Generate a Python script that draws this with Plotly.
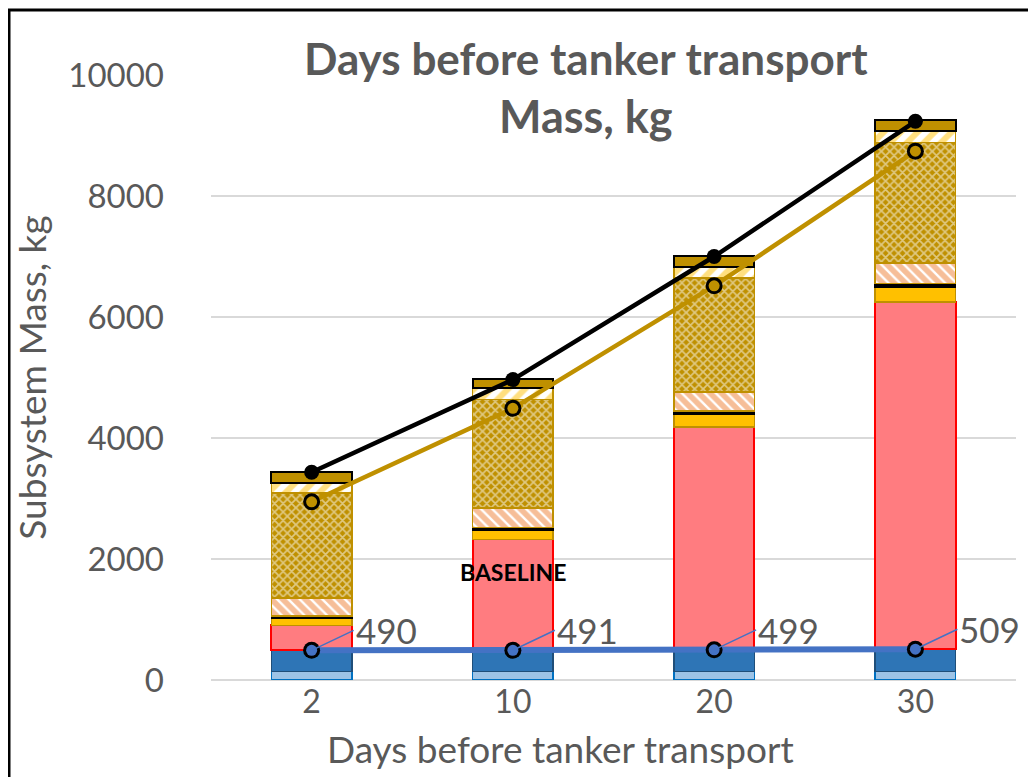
import plotly.graph_objects as go

# stacked subsystem masses per "days before tanker transport" case
days = ["2", "10", "20", "30"]
light_blue = [143, 143, 143, 143]
dark_blue = [347, 348, 356, 366]
red = [415, 1832, 3684, 5741]
yellow = [110, 155, 210, 250]
black_sep = [40, 45, 50, 50]
orange_hatch = [300, 320, 320, 340]
gold_cross = [1740, 1795, 1880, 1995]
stripes = [165, 195, 190, 185]
gold_top = [175, 150, 180, 180]

total_mass = [3435, 4965, 7000, 9235]
gold_line = [2945, 4490, 6515, 8740]
blue_line = [490, 491, 499, 509]

W, H = 1036, 777
L, R, T, B = 203, 28, 67, 105
TXT = "#595959"
FONT = "Lato"


def px(x):
    return (x - L) / (W - L - R)


def py(y):
    return (H - B - y) / (H - T - B)


fig = go.Figure()


def seg(vals, color, edge, pattern=None, lw=1.5):
    marker = dict(color=color, line=dict(color=edge, width=lw))
    if pattern:
        marker["pattern"] = pattern
    fig.add_trace(go.Bar(x=days, y=vals, marker=marker, showlegend=False,
                         hoverinfo="y"))


seg(light_blue, "#9DC3E6", "#0070C0")
seg(dark_blue, "#2E75B6", "#1F4E79")
seg(red, "#FF7C80", "#FF0000", lw=2)
seg(yellow, "#FFC000", "#BF9000")
seg(black_sep, "#000000", "#000000")
seg(orange_hatch, "white", "#BF9000",
    dict(shape="\\", fgcolor="#ED7D31", bgcolor="white", size=8, solidity=0.7))
seg(gold_cross, "#BF9000", "#BF9000",
    dict(shape="x", fgcolor="white", bgcolor="#BF9000", size=6, solidity=0.5))
seg(stripes, "white", "#BF9000",
    dict(shape="/", fgcolor="#FFC000", bgcolor="white", size=12, solidity=0.5))
seg(gold_top, "#BF9000", "#000000", lw=2)

# lines
fig.add_trace(go.Scatter(x=days, y=blue_line, mode="lines", showlegend=False,
                         line=dict(color="#4472C4", width=6)))
fig.add_trace(go.Scatter(x=days, y=gold_line, mode="lines", showlegend=False,
                         line=dict(color="#BF9000", width=4.5)))
fig.add_trace(go.Scatter(x=days, y=total_mass, mode="lines", showlegend=False,
                         line=dict(color="black", width=4.5)))


def ring_markers(vals, fill):
    # black disc under a smaller coloured disc -> outlined circle
    fig.add_trace(go.Scatter(x=days, y=vals, mode="markers", showlegend=False,
                             hoverinfo="skip",
                             marker=dict(symbol="circle", size=17, color="black")))
    fig.add_trace(go.Scatter(x=days, y=vals, mode="markers", showlegend=False,
                             marker=dict(symbol="circle", size=11, color=fill)))


ring_markers(blue_line, "#4472C4")
ring_markers(gold_line, "#BF9000")
fig.add_trace(go.Scatter(x=days, y=total_mass, mode="markers", showlegend=False,
                         marker=dict(symbol="circle", size=15, color="black")))

# data labels with leader lines for the blue series
for i, v in enumerate(blue_line):
    fig.add_annotation(x=i, y=v, xref="x", yref="y", text=str(v),
                       showarrow=True, arrowhead=0, arrowwidth=1.5,
                       arrowcolor="#4472C4", ax=42, ay=-20, xanchor="left",
                       font=dict(family=FONT, size=35, color=TXT))

fig.add_annotation(x=1, y=1780, xref="x", yref="y", text="<b>BASELINE</b>",
                   showarrow=False, font=dict(family=FONT, size=23, color="black"))

fig.add_annotation(x=px(578), y=py(50), xref="paper", yref="paper",
                   text="<b>Days before tanker transport</b>", showarrow=False,
                   yanchor="middle", font=dict(family=FONT, size=44, color=TXT))
fig.add_annotation(x=px(578), y=py(108), xref="paper", yref="paper",
                   text="<b>Mass, kg</b>", showarrow=False,
                   yanchor="middle", font=dict(family=FONT, size=45, color=TXT))
fig.add_annotation(x=px(552), y=py(740), xref="paper", yref="paper",
                   text="Days before tanker transport", showarrow=False,
                   yanchor="middle", font=dict(family=FONT, size=37, color=TXT))

# outer frame
fig.add_shape(type="rect", xref="paper", yref="paper",
              x0=px(1), x1=px(1045), y0=py(2), y1=py(800),
              line=dict(color="black", width=3))

fig.update_layout(
    width=W, height=H,
    margin=dict(l=L, r=R, t=T, b=B),
    barmode="stack", bargap=0.6,
    plot_bgcolor="white", paper_bgcolor="white",
    font=dict(family=FONT, color=TXT),
    xaxis=dict(type="category", range=[-0.5, 3.5], showgrid=False, ticks="",
               tickfont=dict(size=32, color=TXT), showline=False),
    yaxis=dict(range=[0, 10000], dtick=2000, tickformat="d",
               gridcolor="#D9D9D9", gridwidth=2,
               zeroline=True, zerolinecolor="#D9D9D9", zerolinewidth=2,
               tickfont=dict(size=33, color=TXT), ticks="", ticklabelstandoff=46,
               title=dict(text="Subsystem Mass, kg",
                          font=dict(size=37, color=TXT), standoff=10)),
)

fig.write_html("out.html")
